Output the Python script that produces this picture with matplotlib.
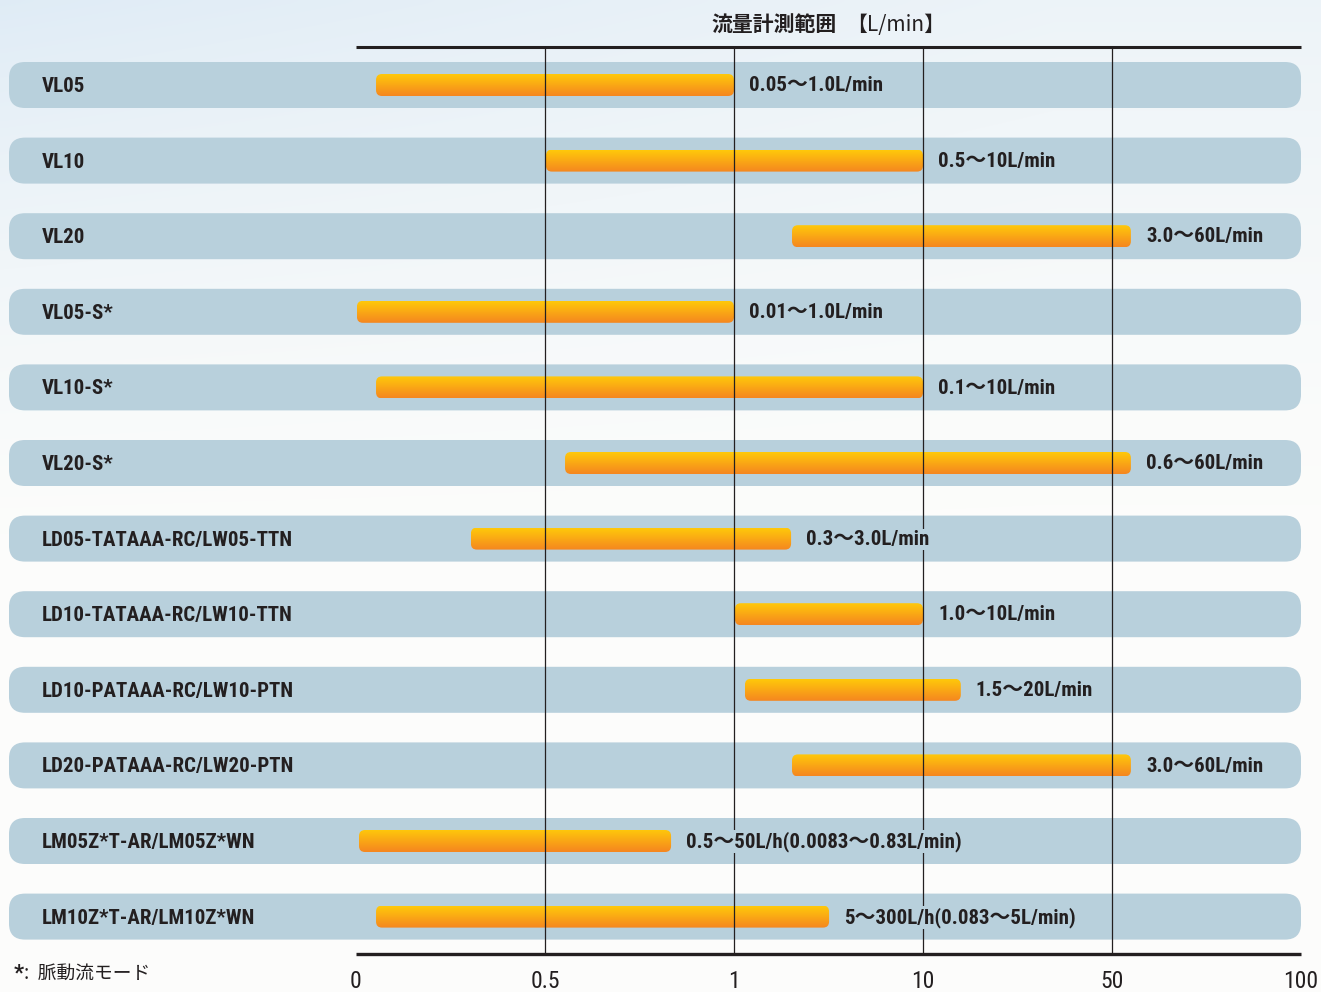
import numpy as np
import matplotlib
matplotlib.use("Agg")
import matplotlib.pyplot as plt
from matplotlib.patches import FancyBboxPatch

# ---------------- data ----------------
models = ["VL05", "VL10", "VL20", "VL05-S*", "VL10-S*", "VL20-S*",
          "LD05-TATAAA-RC/LW05-TTN", "LD10-TATAAA-RC/LW10-TTN",
          "LD10-PATAAA-RC/LW10-PTN", "LD20-PATAAA-RC/LW20-PTN",
          "LM05Z*T-AR/LM05Z*WN", "LM10Z*T-AR/LM10Z*WN"]
range_labels = ["0.05～1.0L/min", "0.5～10L/min", "3.0～60L/min",
                "0.01～1.0L/min", "0.1～10L/min", "0.6～60L/min",
                "0.3～3.0L/min", "1.0～10L/min", "1.5～20L/min",
                "3.0～60L/min", "0.5～50L/h(0.0083～0.83L/min)",
                "5～300L/h(0.083～5L/min)"]
# bar start / end, in axis-tick units (tick i = tick_labels[i])
bar_start = [0.106, 1.005, 2.307, 0.005, 0.106, 1.106, 0.608, 2.005, 2.058, 2.307, 0.016, 0.106]
bar_end = [2.000, 3.000, 4.100, 2.000, 3.000, 4.100, 2.302, 3.000, 3.200, 4.100, 1.667, 2.503]
tick_labels = ["0", "0.5", "1", "10", "50", "100"]
title_main = "流量計測範囲"
title_unit = "【L/min】"
footnote = ":  脈動流モード"

# ---------------- style ----------------
W, H = 1321, 992
PX = 189.0      # pixels per tick unit (x)
X0 = 356.0      # pixel of tick 0
RY = 75.6       # pixels per row (y)
Y0 = 85.0       # pixel of first row centre
ROW_C = "#b8d0dc"
TXT_C = "#231f20"
BAR_TOP = np.array([255, 201, 10]) / 255.0
BAR_BOT = np.array([245, 134, 32]) / 255.0
NARROW = ["Roboto Condensed", "Archivo Narrow", "IBM Plex Sans Condensed",
          "Noto Sans CJK JP", "DejaVu Sans"]
CJK = ["Noto Sans CJK JP", "DejaVu Sans"]

fig = plt.figure(figsize=(W / 100, H / 100), dpi=100)
fig.patch.set_facecolor("#fdfdfb")

# soft sky background
bg = fig.add_axes([0, 0, 1, 1], zorder=0)
yy, xx = np.mgrid[0:1:240j, 0:1:320j]
w = np.clip(1 - yy / 0.6, 0, 1) ** 1.5 * (0.55 + 0.45 * np.clip(1 - xx / 0.8, 0, 1))
w = np.clip(w * 0.6, 0, 1)
white = np.array([0.992, 0.992, 0.985])
blue = np.array([0.80, 0.88, 0.95])
img = white[None, None, :] * (1 - w[..., None]) + blue[None, None, :] * w[..., None]
bg.imshow(img, extent=(0, 1, 0, 1), origin="upper", aspect="auto", interpolation="bicubic")
bg.set_xlim(0, 1)
bg.set_ylim(0, 1)
bg.axis("off")

ax = fig.add_axes([0, 0, 1, 1], zorder=1)
ax.patch.set_alpha(0)
ax.axis("off")

def ux(px):
    return (px - X0) / PX

def uy(py):
    return (py - Y0) / RY

aspect = PX / RY
row_h = 46 / RY
bar_h = 22 / RY

for i, (m, lab, s, e) in enumerate(zip(models, range_labels, bar_start, bar_end)):
    # row background
    rb = FancyBboxPatch((ux(9), i - row_h / 2), ux(1301) - ux(9), row_h,
                        boxstyle=f"round,pad=0,rounding_size={16 / PX}",
                        mutation_aspect=aspect, fc=ROW_C, ec="none", zorder=1)
    ax.add_patch(rb)
    # bar with vertical gradient
    bp = FancyBboxPatch((s, i - bar_h / 2), e - s, bar_h,
                        boxstyle=f"round,pad=0,rounding_size={6 / PX}",
                        mutation_aspect=aspect, fc="none", ec="none", zorder=2)
    ax.add_patch(bp)
    t = np.linspace(0, 1, 64)[:, None, None]
    grad = BAR_TOP[None, None, :] * (1 - t) + BAR_BOT[None, None, :] * t
    im = ax.imshow(grad, extent=(s, e, i + bar_h / 2, i - bar_h / 2), origin="upper",
                   aspect="auto", zorder=2, interpolation="bilinear")
    im.set_clip_path(bp)
    # labels
    ax.text(ux(42), i + 0.02, m, family=NARROW, fontweight="bold", fontsize=15,
            color=TXT_C, va="center", ha="left", zorder=6)
    ax.text(e + 15 / PX, i + 0.01, lab, family=NARROW, fontweight="bold", fontsize=15,
            color=TXT_C, va="center", ha="left", zorder=6,
            bbox=dict(boxstyle="square,pad=0.05", fc=ROW_C, ec="none"))

# grid lines and axis rules
ax.vlines([1, 2, 3, 4], uy(46), uy(955), color=TXT_C, lw=0.9, zorder=4)
ax.plot([0, 5], [uy(46.5), uy(46.5)], color=TXT_C, lw=2.2, solid_capstyle="butt", zorder=5)
ax.plot([0, 5], [uy(954), uy(954)], color=TXT_C, lw=2.4, solid_capstyle="butt", zorder=5)

for k, tl in enumerate(tick_labels):
    ax.text(k, uy(981), tl, family=NARROW, fontsize=17, color=TXT_C,
            ha="center", va="center", zorder=6)

# title
ax.text(ux(711), uy(25), title_main, family=CJK, fontweight="bold", fontsize=15,
        color=TXT_C, ha="left", va="center", zorder=6)
ax.text(ux(846), uy(25), title_unit, family=CJK, fontsize=15, color=TXT_C,
        ha="left", va="center", zorder=6)

# footnote
ax.text(ux(14), uy(973), "*", family=NARROW, fontweight="bold", fontsize=16,
        color=TXT_C, ha="left", va="center", zorder=6)
ax.text(ux(24), uy(973), footnote, family=CJK, fontsize=13.5, color=TXT_C,
        ha="left", va="center", zorder=6)

ax.set_xlim(ux(0), ux(W))
ax.set_ylim(uy(H), uy(0))

fig.savefig("out.png", dpi=100, facecolor=fig.get_facecolor())
